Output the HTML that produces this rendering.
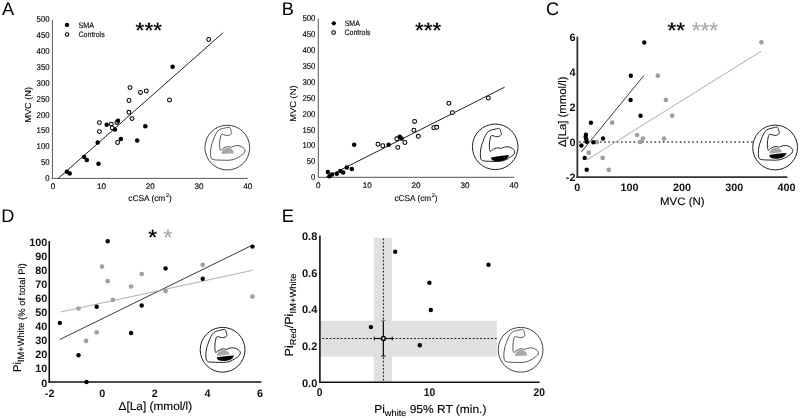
<!DOCTYPE html>
<html><head><meta charset="utf-8"><style>html,body{margin:0;padding:0;background:#fff;overflow:hidden}svg{display:block;will-change:transform}text{font-family:"Liberation Sans",sans-serif;text-rendering:geometricPrecision}</style></head><body>
<svg width="800" height="418" viewBox="0 0 800 418">
<rect width="800" height="418" fill="#fff"/>
<text x="1.9" y="14.6" font-size="18.2" text-anchor="start" font-weight="normal" fill="#000" >A</text>
<text x="281.7" y="14.8" font-size="18.2" text-anchor="start" font-weight="normal" fill="#000" >B</text>
<text x="546" y="14.8" font-size="18.2" text-anchor="start" font-weight="normal" fill="#000" >C</text>
<text x="1.2" y="221.5" font-size="18.2" text-anchor="start" font-weight="normal" fill="#000" >D</text>
<text x="281.8" y="221.7" font-size="18.2" text-anchor="start" font-weight="normal" fill="#000" >E</text>
<line x1="52.4" y1="19.8" x2="52.4" y2="178.9" stroke="#555" stroke-width="1" />
<line x1="52.4" y1="178.4" x2="247.6" y2="178.4" stroke="#555" stroke-width="1" />
<text x="0" y="0" font-size="8.4" text-anchor="end" font-weight="normal" fill="#000"  stroke="#000" stroke-width="0.15" transform="translate(49.6 181.2) scale(0.93 1)">0</text>
<text x="0" y="0" font-size="8.4" text-anchor="end" font-weight="normal" fill="#000"  stroke="#000" stroke-width="0.15" transform="translate(49.6 165.28) scale(0.93 1)">50</text>
<text x="0" y="0" font-size="8.4" text-anchor="end" font-weight="normal" fill="#000"  stroke="#000" stroke-width="0.15" transform="translate(49.6 149.36) scale(0.93 1)">100</text>
<text x="0" y="0" font-size="8.4" text-anchor="end" font-weight="normal" fill="#000"  stroke="#000" stroke-width="0.15" transform="translate(49.6 133.44) scale(0.93 1)">150</text>
<text x="0" y="0" font-size="8.4" text-anchor="end" font-weight="normal" fill="#000"  stroke="#000" stroke-width="0.15" transform="translate(49.6 117.52) scale(0.93 1)">200</text>
<text x="0" y="0" font-size="8.4" text-anchor="end" font-weight="normal" fill="#000"  stroke="#000" stroke-width="0.15" transform="translate(49.6 101.6) scale(0.93 1)">250</text>
<text x="0" y="0" font-size="8.4" text-anchor="end" font-weight="normal" fill="#000"  stroke="#000" stroke-width="0.15" transform="translate(49.6 85.68) scale(0.93 1)">300</text>
<text x="0" y="0" font-size="8.4" text-anchor="end" font-weight="normal" fill="#000"  stroke="#000" stroke-width="0.15" transform="translate(49.6 69.76) scale(0.93 1)">350</text>
<text x="0" y="0" font-size="8.4" text-anchor="end" font-weight="normal" fill="#000"  stroke="#000" stroke-width="0.15" transform="translate(49.6 53.84) scale(0.93 1)">400</text>
<text x="0" y="0" font-size="8.4" text-anchor="end" font-weight="normal" fill="#000"  stroke="#000" stroke-width="0.15" transform="translate(49.6 37.92) scale(0.93 1)">450</text>
<text x="0" y="0" font-size="8.4" text-anchor="end" font-weight="normal" fill="#000"  stroke="#000" stroke-width="0.15" transform="translate(49.6 22) scale(0.93 1)">500</text>
<text x="52.9" y="188.9" font-size="8.1" text-anchor="middle" font-weight="normal" fill="#000"  stroke="#000" stroke-width="0.15">0</text>
<text x="101.6" y="188.9" font-size="8.1" text-anchor="middle" font-weight="normal" fill="#000"  stroke="#000" stroke-width="0.15">10</text>
<text x="150.3" y="188.9" font-size="8.1" text-anchor="middle" font-weight="normal" fill="#000"  stroke="#000" stroke-width="0.15">20</text>
<text x="199" y="188.9" font-size="8.1" text-anchor="middle" font-weight="normal" fill="#000"  stroke="#000" stroke-width="0.15">30</text>
<text x="247.7" y="188.9" font-size="8.1" text-anchor="middle" font-weight="normal" fill="#000"  stroke="#000" stroke-width="0.15">40</text>
<text x="150" y="201.3" font-size="8.4" text-anchor="middle" font-weight="normal" fill="#000"  textLength="43.4" lengthAdjust="spacingAndGlyphs" stroke="#000" stroke-width="0.12">cCSA (cm<tspan font-size="5.5" dx="0.6" dy="-4.4">2</tspan><tspan dy="4.4">)</tspan></text>
<text x="0" y="0" font-size="8.6" text-anchor="middle" font-weight="normal" fill="#000" transform="translate(30.8 104.85) rotate(-90)" textLength="35.8" lengthAdjust="spacingAndGlyphs" stroke="#000" stroke-width="0.12">MVC (N)</text>
<line x1="58.2" y1="178.4" x2="223.2" y2="32.6" stroke="#222" stroke-width="1" />
<circle cx="99.4" cy="122.6" r="1.95" fill="#fff" stroke="#000" stroke-width="1.05"/>
<circle cx="99.4" cy="131.6" r="1.95" fill="#fff" stroke="#000" stroke-width="1.05"/>
<circle cx="111.3" cy="124.1" r="1.95" fill="#fff" stroke="#000" stroke-width="1.05"/>
<circle cx="112.3" cy="128" r="1.95" fill="#fff" stroke="#000" stroke-width="1.05"/>
<circle cx="116.9" cy="122.4" r="1.95" fill="#fff" stroke="#000" stroke-width="1.05"/>
<circle cx="117.6" cy="142.5" r="1.95" fill="#fff" stroke="#000" stroke-width="1.05"/>
<circle cx="128.9" cy="112.3" r="1.95" fill="#fff" stroke="#000" stroke-width="1.05"/>
<circle cx="132" cy="118.6" r="1.95" fill="#fff" stroke="#000" stroke-width="1.05"/>
<circle cx="129" cy="100.5" r="1.95" fill="#fff" stroke="#000" stroke-width="1.05"/>
<circle cx="130" cy="87.6" r="1.95" fill="#fff" stroke="#000" stroke-width="1.05"/>
<circle cx="140.5" cy="92.4" r="1.95" fill="#fff" stroke="#000" stroke-width="1.05"/>
<circle cx="146.3" cy="91" r="1.95" fill="#fff" stroke="#000" stroke-width="1.05"/>
<circle cx="169.5" cy="100" r="1.95" fill="#fff" stroke="#000" stroke-width="1.05"/>
<circle cx="208.7" cy="39.5" r="1.95" fill="#fff" stroke="#000" stroke-width="1.05"/>
<circle cx="66.9" cy="171.7" r="2.25" fill="#000"/>
<circle cx="69.7" cy="173.5" r="2.25" fill="#000"/>
<circle cx="84.1" cy="157.1" r="2.25" fill="#000"/>
<circle cx="86.8" cy="160" r="2.25" fill="#000"/>
<circle cx="98.5" cy="163.8" r="2.25" fill="#000"/>
<circle cx="97.7" cy="142.5" r="2.25" fill="#000"/>
<circle cx="106.7" cy="124.7" r="2.25" fill="#000"/>
<circle cx="118" cy="120.7" r="2.25" fill="#000"/>
<circle cx="114.9" cy="129.5" r="2.25" fill="#000"/>
<circle cx="120.9" cy="138.9" r="2.25" fill="#000"/>
<circle cx="137.2" cy="140.6" r="2.25" fill="#000"/>
<circle cx="145.3" cy="126.3" r="2.25" fill="#000"/>
<circle cx="172.6" cy="66.8" r="2.25" fill="#000"/>
<circle cx="67" cy="24.9" r="2.2" fill="#000"/>
<circle cx="67" cy="34.4" r="1.7" fill="#fff" stroke="#000" stroke-width="1.05"/>
<text x="78.6" y="27.8" font-size="7.9" text-anchor="start" font-weight="normal" fill="#000"  textLength="15.5" lengthAdjust="spacingAndGlyphs" stroke="#000" stroke-width="0.12">SMA</text>
<text x="78.5" y="36.6" font-size="7.9" text-anchor="start" font-weight="normal" fill="#000"  textLength="26.2" lengthAdjust="spacingAndGlyphs" stroke="#000" stroke-width="0.12">Controls</text>
<text x="148.8" y="37.9" font-size="22.6" text-anchor="middle" font-weight="bold" fill="#000" stroke="#fff" stroke-width="0.3">***</text>
<g transform="translate(227.3 147.6)">
<circle cx="0" cy="0" r="22.4" fill="#fff" stroke="#444" stroke-width="1"/>
<g transform="translate(0 0)">
<path d="M-6.8 2.8C-6.3 2.97 -5.37 1.62 -4.6 1.1C-3.83 0.58 -3.07 0.04 -2.2 -0.3C-1.33 -0.64 -0.27 -0.9 0.6 -0.95C1.47 -1 2.38 -0.67 3 -0.6C3.62 -0.53 3.62 -0.33 4.3 -0.5C4.98 -0.67 6.03 -1.35 7.1 -1.6C8.17 -1.85 9.5 -2.12 10.7 -2C11.9 -1.88 13.28 -1.38 14.3 -0.9C15.32 -0.42 16.23 0.25 16.8 0.9C17.37 1.55 17.7 2.23 17.7 3C17.7 3.77 17.32 4.78 16.8 5.5C16.28 6.22 15.5 6.63 14.6 7.3C13.7 7.97 12.53 8.83 11.4 9.5C10.27 10.17 9 10.83 7.8 11.3C6.6 11.77 5.4 12.07 4.2 12.3C3 12.53 1.8 12.65 0.6 12.7C-0.6 12.75 -1.73 12.63 -3 12.6C-4.27 12.57 -5.7 12.53 -7 12.5C-8.3 12.47 -9.57 12.5 -10.8 12.4C-12.03 12.3 -13.52 12.22 -14.4 11.9C-15.28 11.58 -15.72 11.27 -16.1 10.5C-16.48 9.73 -16.62 8.68 -16.7 7.3C-16.78 5.92 -16.75 3.83 -16.6 2.2C-16.45 0.57 -16.17 -1.05 -15.8 -2.5C-15.43 -3.95 -14.93 -5.03 -14.4 -6.5C-13.87 -7.97 -13.27 -9.82 -12.6 -11.3C-11.93 -12.78 -11.13 -14.35 -10.4 -15.4C-9.67 -16.45 -8.98 -17.03 -8.2 -17.6C-7.42 -18.17 -6.7 -18.47 -5.7 -18.8C-4.7 -19.13 -3.27 -19.35 -2.2 -19.6C-1.13 -19.85 -0.03 -20.18 0.7 -20.3C1.43 -20.42 1.78 -20.48 2.2 -20.3C2.62 -20.12 2.97 -19.75 3.2 -19.2C3.43 -18.65 3.42 -17.67 3.6 -17C3.78 -16.33 4.23 -15.73 4.3 -15.2C4.37 -14.67 4.3 -14.22 4 -13.8C3.7 -13.38 3.17 -12.98 2.5 -12.7C1.83 -12.42 0.9 -12.1 0 -12.1C-0.9 -12.1 -2.07 -12.5 -2.9 -12.7C-3.73 -12.9 -4.47 -13.3 -5 -13.3C-5.53 -13.3 -5.8 -13.15 -6.1 -12.7C-6.4 -12.25 -6.57 -11.55 -6.8 -10.6C-7.03 -9.65 -7.34 -8.2 -7.5 -7C-7.66 -5.8 -7.73 -4.58 -7.75 -3.4C-7.77 -2.22 -7.76 -0.93 -7.6 0.1C-7.44 1.13 -7.3 2.63 -6.8 2.8Z" fill="none" stroke="#555" stroke-width="1" stroke-linejoin="round"/>
<path d="M-5.8 6.3 C-5.4 2.0 -2.5 0.2 0.7 0.1 C3.8 0.0 6.2 2.0 6.7 5.6 Z" fill="#a8a8a8"/>
</g></g>
<line x1="318.3" y1="18.6" x2="318.3" y2="177.8" stroke="#555" stroke-width="1" />
<line x1="318.3" y1="177.3" x2="514" y2="177.3" stroke="#555" stroke-width="1" />
<text x="0" y="0" font-size="8.4" text-anchor="end" font-weight="normal" fill="#000"  stroke="#000" stroke-width="0.15" transform="translate(315.4 180.3) scale(0.93 1)">0</text>
<text x="0" y="0" font-size="8.4" text-anchor="end" font-weight="normal" fill="#000"  stroke="#000" stroke-width="0.15" transform="translate(315.4 164.38) scale(0.93 1)">50</text>
<text x="0" y="0" font-size="8.4" text-anchor="end" font-weight="normal" fill="#000"  stroke="#000" stroke-width="0.15" transform="translate(315.4 148.46) scale(0.93 1)">100</text>
<text x="0" y="0" font-size="8.4" text-anchor="end" font-weight="normal" fill="#000"  stroke="#000" stroke-width="0.15" transform="translate(315.4 132.54) scale(0.93 1)">150</text>
<text x="0" y="0" font-size="8.4" text-anchor="end" font-weight="normal" fill="#000"  stroke="#000" stroke-width="0.15" transform="translate(315.4 116.62) scale(0.93 1)">200</text>
<text x="0" y="0" font-size="8.4" text-anchor="end" font-weight="normal" fill="#000"  stroke="#000" stroke-width="0.15" transform="translate(315.4 100.7) scale(0.93 1)">250</text>
<text x="0" y="0" font-size="8.4" text-anchor="end" font-weight="normal" fill="#000"  stroke="#000" stroke-width="0.15" transform="translate(315.4 84.78) scale(0.93 1)">300</text>
<text x="0" y="0" font-size="8.4" text-anchor="end" font-weight="normal" fill="#000"  stroke="#000" stroke-width="0.15" transform="translate(315.4 68.86) scale(0.93 1)">350</text>
<text x="0" y="0" font-size="8.4" text-anchor="end" font-weight="normal" fill="#000"  stroke="#000" stroke-width="0.15" transform="translate(315.4 52.94) scale(0.93 1)">400</text>
<text x="0" y="0" font-size="8.4" text-anchor="end" font-weight="normal" fill="#000"  stroke="#000" stroke-width="0.15" transform="translate(315.4 37.02) scale(0.93 1)">450</text>
<text x="0" y="0" font-size="8.4" text-anchor="end" font-weight="normal" fill="#000"  stroke="#000" stroke-width="0.15" transform="translate(315.4 21.1) scale(0.93 1)">500</text>
<text x="318.2" y="187.6" font-size="8.1" text-anchor="middle" font-weight="normal" fill="#000"  stroke="#000" stroke-width="0.15">0</text>
<text x="367.15" y="187.6" font-size="8.1" text-anchor="middle" font-weight="normal" fill="#000"  stroke="#000" stroke-width="0.15">10</text>
<text x="416.1" y="187.6" font-size="8.1" text-anchor="middle" font-weight="normal" fill="#000"  stroke="#000" stroke-width="0.15">20</text>
<text x="465.05" y="187.6" font-size="8.1" text-anchor="middle" font-weight="normal" fill="#000"  stroke="#000" stroke-width="0.15">30</text>
<text x="514" y="187.6" font-size="8.1" text-anchor="middle" font-weight="normal" fill="#000"  stroke="#000" stroke-width="0.15">40</text>
<text x="416" y="201.2" font-size="8.4" text-anchor="middle" font-weight="normal" fill="#000"  textLength="43" lengthAdjust="spacingAndGlyphs" stroke="#000" stroke-width="0.12">cCSA (cm<tspan font-size="5.5" dx="0.6" dy="-4.4">2</tspan><tspan dy="4.4">)</tspan></text>
<text x="0" y="0" font-size="8.6" text-anchor="middle" font-weight="normal" fill="#000" transform="translate(296.3 103.65) rotate(-90)" textLength="36.4" lengthAdjust="spacingAndGlyphs" stroke="#000" stroke-width="0.12">MVC (N)</text>
<line x1="326" y1="177.3" x2="504.6" y2="87.2" stroke="#222" stroke-width="1" />
<circle cx="378" cy="144.2" r="1.95" fill="#fff" stroke="#000" stroke-width="1.05"/>
<circle cx="382.8" cy="145.7" r="1.95" fill="#fff" stroke="#000" stroke-width="1.05"/>
<circle cx="396.8" cy="138.8" r="1.95" fill="#fff" stroke="#000" stroke-width="1.05"/>
<circle cx="397.8" cy="147.4" r="1.95" fill="#fff" stroke="#000" stroke-width="1.05"/>
<circle cx="404.9" cy="142.5" r="1.95" fill="#fff" stroke="#000" stroke-width="1.05"/>
<circle cx="414.6" cy="121.4" r="1.95" fill="#fff" stroke="#000" stroke-width="1.05"/>
<circle cx="413.9" cy="130.2" r="1.95" fill="#fff" stroke="#000" stroke-width="1.05"/>
<circle cx="418.3" cy="136.3" r="1.95" fill="#fff" stroke="#000" stroke-width="1.05"/>
<circle cx="433.8" cy="127.7" r="1.95" fill="#fff" stroke="#000" stroke-width="1.05"/>
<circle cx="436.7" cy="127.3" r="1.95" fill="#fff" stroke="#000" stroke-width="1.05"/>
<circle cx="448.9" cy="103.2" r="1.95" fill="#fff" stroke="#000" stroke-width="1.05"/>
<circle cx="452.4" cy="112.6" r="1.95" fill="#fff" stroke="#000" stroke-width="1.05"/>
<circle cx="488.3" cy="98" r="1.95" fill="#fff" stroke="#000" stroke-width="1.05"/>
<circle cx="354.2" cy="144.8" r="2.25" fill="#000"/>
<circle cx="327.9" cy="172.1" r="2.25" fill="#000"/>
<circle cx="332" cy="174.4" r="2.25" fill="#000"/>
<circle cx="329.4" cy="176.2" r="2.25" fill="#000"/>
<circle cx="336.8" cy="173.7" r="2.25" fill="#000"/>
<circle cx="340.4" cy="171.1" r="2.25" fill="#000"/>
<circle cx="343.2" cy="172.5" r="2.25" fill="#000"/>
<circle cx="346.8" cy="167.6" r="2.25" fill="#000"/>
<circle cx="351.8" cy="168.9" r="2.25" fill="#000"/>
<circle cx="388.6" cy="144.8" r="2.25" fill="#000"/>
<circle cx="399.7" cy="136.7" r="2.25" fill="#000"/>
<circle cx="401.6" cy="138.4" r="2.25" fill="#000"/>
<circle cx="333.8" cy="23.3" r="2.15" fill="#000"/>
<circle cx="333.6" cy="32.6" r="1.85" fill="#fff" stroke="#000" stroke-width="1.05"/>
<text x="344.7" y="25.9" font-size="7.9" text-anchor="start" font-weight="normal" fill="#000"  textLength="15.1" lengthAdjust="spacingAndGlyphs" stroke="#000" stroke-width="0.12">SMA</text>
<text x="344.6" y="35.4" font-size="7.9" text-anchor="start" font-weight="normal" fill="#000"  textLength="25.9" lengthAdjust="spacingAndGlyphs" stroke="#000" stroke-width="0.12">Controls</text>
<text x="428.15" y="37.75" font-size="22.6" text-anchor="middle" font-weight="bold" fill="#000" stroke="#fff" stroke-width="0.3">***</text>
<g transform="translate(495.2 146.8)">
<circle cx="0" cy="0" r="22.8" fill="#fff" stroke="#222" stroke-width="1"/>
<g transform="translate(1.9 2)">
<path d="M-6.8 2.8C-6.3 2.97 -5.37 1.62 -4.6 1.1C-3.83 0.58 -3.07 0.04 -2.2 -0.3C-1.33 -0.64 -0.27 -0.9 0.6 -0.95C1.47 -1 2.38 -0.67 3 -0.6C3.62 -0.53 3.62 -0.33 4.3 -0.5C4.98 -0.67 6.03 -1.35 7.1 -1.6C8.17 -1.85 9.5 -2.12 10.7 -2C11.9 -1.88 13.28 -1.38 14.3 -0.9C15.32 -0.42 16.23 0.25 16.8 0.9C17.37 1.55 17.7 2.23 17.7 3C17.7 3.77 17.32 4.78 16.8 5.5C16.28 6.22 15.5 6.63 14.6 7.3C13.7 7.97 12.53 8.83 11.4 9.5C10.27 10.17 9 10.83 7.8 11.3C6.6 11.77 5.4 12.07 4.2 12.3C3 12.53 1.8 12.65 0.6 12.7C-0.6 12.75 -1.73 12.63 -3 12.6C-4.27 12.57 -5.7 12.53 -7 12.5C-8.3 12.47 -9.57 12.5 -10.8 12.4C-12.03 12.3 -13.52 12.22 -14.4 11.9C-15.28 11.58 -15.72 11.27 -16.1 10.5C-16.48 9.73 -16.62 8.68 -16.7 7.3C-16.78 5.92 -16.75 3.83 -16.6 2.2C-16.45 0.57 -16.17 -1.05 -15.8 -2.5C-15.43 -3.95 -14.93 -5.03 -14.4 -6.5C-13.87 -7.97 -13.27 -9.82 -12.6 -11.3C-11.93 -12.78 -11.13 -14.35 -10.4 -15.4C-9.67 -16.45 -8.98 -17.03 -8.2 -17.6C-7.42 -18.17 -6.7 -18.47 -5.7 -18.8C-4.7 -19.13 -3.27 -19.35 -2.2 -19.6C-1.13 -19.85 -0.03 -20.18 0.7 -20.3C1.43 -20.42 1.78 -20.48 2.2 -20.3C2.62 -20.12 2.97 -19.75 3.2 -19.2C3.43 -18.65 3.42 -17.67 3.6 -17C3.78 -16.33 4.23 -15.73 4.3 -15.2C4.37 -14.67 4.3 -14.22 4 -13.8C3.7 -13.38 3.17 -12.98 2.5 -12.7C1.83 -12.42 0.9 -12.1 0 -12.1C-0.9 -12.1 -2.07 -12.5 -2.9 -12.7C-3.73 -12.9 -4.47 -13.3 -5 -13.3C-5.53 -13.3 -5.8 -13.15 -6.1 -12.7C-6.4 -12.25 -6.57 -11.55 -6.8 -10.6C-7.03 -9.65 -7.34 -8.2 -7.5 -7C-7.66 -5.8 -7.73 -4.58 -7.75 -3.4C-7.77 -2.22 -7.76 -0.93 -7.6 0.1C-7.44 1.13 -7.3 2.63 -6.8 2.8Z" fill="none" stroke="#222" stroke-width="1" stroke-linejoin="round"/>
<path d="M-6.1 8.6 C-0.5 7.6 6 6.6 11.9 6.2 C11.4 8.8 9.4 10.9 6.5 11.8 C3.5 12.6 -1 12.6 -3.5 11.9 C-5.2 11.2 -6 10.2 -6.1 8.6 Z" fill="#000"/>
</g></g>
<line x1="577.35" y1="36.6" x2="577.35" y2="178" stroke="#333" stroke-width="1.8" />
<line x1="576.45" y1="177.1" x2="787.4" y2="177.1" stroke="#333" stroke-width="1.8" />
<text x="575.4" y="181.3" font-size="10.8" text-anchor="end" font-weight="bold" fill="#111" >-2</text>
<text x="575.4" y="146.2" font-size="10.8" text-anchor="end" font-weight="bold" fill="#111" >0</text>
<text x="575.4" y="111.1" font-size="10.8" text-anchor="end" font-weight="bold" fill="#111" >2</text>
<text x="575.4" y="76" font-size="10.8" text-anchor="end" font-weight="bold" fill="#111" >4</text>
<text x="575.4" y="40.9" font-size="10.8" text-anchor="end" font-weight="bold" fill="#111" >6</text>
<text x="577.2" y="191.3" font-size="10.8" text-anchor="middle" font-weight="bold" fill="#111" >0</text>
<text x="629.55" y="191.3" font-size="10.8" text-anchor="middle" font-weight="bold" fill="#111" >100</text>
<text x="681.9" y="191.3" font-size="10.8" text-anchor="middle" font-weight="bold" fill="#111" >200</text>
<text x="734.25" y="191.3" font-size="10.8" text-anchor="middle" font-weight="bold" fill="#111" >300</text>
<text x="786.6" y="191.3" font-size="10.8" text-anchor="middle" font-weight="bold" fill="#111" >400</text>
<text x="682.3" y="204.6" font-size="10.8" text-anchor="middle" font-weight="normal" fill="#000"  textLength="44.6" lengthAdjust="spacingAndGlyphs" stroke="#000" stroke-width="0.12">MVC (N)</text>
<text x="0" y="0" font-size="11" text-anchor="middle" font-weight="normal" fill="#000" transform="translate(566 111.8) rotate(-90)" textLength="70.5" lengthAdjust="spacingAndGlyphs" stroke="#000" stroke-width="0.12">&#916;[La] (mmol/l)</text>
<line x1="579" y1="142.1" x2="753" y2="142.1" stroke="#333" stroke-width="1.5" stroke-dasharray="1.5 2.7"/>
<line x1="581.4" y1="151.9" x2="643.9" y2="75.5" stroke="#222" stroke-width="0.9" />
<line x1="586.7" y1="160" x2="761.4" y2="51.1" stroke="#999" stroke-width="0.8" />
<circle cx="612.2" cy="122.7" r="2.35" fill="#a0a0a0"/>
<circle cx="596.8" cy="142.2" r="2.35" fill="#a0a0a0"/>
<circle cx="588.7" cy="152.7" r="2.35" fill="#a0a0a0"/>
<circle cx="602.6" cy="157.9" r="2.35" fill="#a0a0a0"/>
<circle cx="608.8" cy="169.8" r="2.35" fill="#a0a0a0"/>
<circle cx="657.8" cy="75.7" r="2.35" fill="#a0a0a0"/>
<circle cx="665.9" cy="99.9" r="2.35" fill="#a0a0a0"/>
<circle cx="672.2" cy="115.7" r="2.35" fill="#a0a0a0"/>
<circle cx="637.1" cy="135" r="2.35" fill="#a0a0a0"/>
<circle cx="642.9" cy="138.7" r="2.35" fill="#a0a0a0"/>
<circle cx="640" cy="142.1" r="2.35" fill="#a0a0a0"/>
<circle cx="664" cy="138.7" r="2.35" fill="#a0a0a0"/>
<circle cx="761.4" cy="42.3" r="2.35" fill="#a0a0a0"/>
<circle cx="581.4" cy="145.5" r="2.2" fill="#000"/>
<circle cx="585.9" cy="134.8" r="2.2" fill="#000"/>
<circle cx="585.6" cy="137.1" r="2.2" fill="#000"/>
<circle cx="586.2" cy="139.3" r="2.2" fill="#000"/>
<circle cx="586.7" cy="141.8" r="2.2" fill="#000"/>
<circle cx="593.4" cy="142.2" r="2.2" fill="#000"/>
<circle cx="603" cy="138.5" r="2.2" fill="#000"/>
<circle cx="584.7" cy="157.9" r="2.2" fill="#000"/>
<circle cx="586.7" cy="169.8" r="2.2" fill="#000"/>
<circle cx="590.9" cy="122.7" r="2.2" fill="#000"/>
<circle cx="630.6" cy="100" r="2.2" fill="#000"/>
<circle cx="640.5" cy="115.8" r="2.2" fill="#000"/>
<circle cx="630.8" cy="75.7" r="2.2" fill="#000"/>
<circle cx="644.3" cy="42.5" r="2.2" fill="#000"/>
<text x="676.2" y="37.9" font-size="22.6" text-anchor="middle" font-weight="bold" fill="#000" stroke="#fff" stroke-width="0.3">**</text>
<text x="704.85" y="37.9" font-size="22.6" text-anchor="middle" font-weight="bold" fill="#aaa" stroke="#fff" stroke-width="0.3">***</text>
<g transform="translate(775.1 147.5)">
<circle cx="0" cy="0" r="22.4" fill="#fff" stroke="#222" stroke-width="1"/>
<g transform="translate(0 0)">
<path d="M-6.8 2.8C-6.3 2.97 -5.37 1.62 -4.6 1.1C-3.83 0.58 -3.07 0.04 -2.2 -0.3C-1.33 -0.64 -0.27 -0.9 0.6 -0.95C1.47 -1 2.38 -0.67 3 -0.6C3.62 -0.53 3.62 -0.33 4.3 -0.5C4.98 -0.67 6.03 -1.35 7.1 -1.6C8.17 -1.85 9.5 -2.12 10.7 -2C11.9 -1.88 13.28 -1.38 14.3 -0.9C15.32 -0.42 16.23 0.25 16.8 0.9C17.37 1.55 17.7 2.23 17.7 3C17.7 3.77 17.32 4.78 16.8 5.5C16.28 6.22 15.5 6.63 14.6 7.3C13.7 7.97 12.53 8.83 11.4 9.5C10.27 10.17 9 10.83 7.8 11.3C6.6 11.77 5.4 12.07 4.2 12.3C3 12.53 1.8 12.65 0.6 12.7C-0.6 12.75 -1.73 12.63 -3 12.6C-4.27 12.57 -5.7 12.53 -7 12.5C-8.3 12.47 -9.57 12.5 -10.8 12.4C-12.03 12.3 -13.52 12.22 -14.4 11.9C-15.28 11.58 -15.72 11.27 -16.1 10.5C-16.48 9.73 -16.62 8.68 -16.7 7.3C-16.78 5.92 -16.75 3.83 -16.6 2.2C-16.45 0.57 -16.17 -1.05 -15.8 -2.5C-15.43 -3.95 -14.93 -5.03 -14.4 -6.5C-13.87 -7.97 -13.27 -9.82 -12.6 -11.3C-11.93 -12.78 -11.13 -14.35 -10.4 -15.4C-9.67 -16.45 -8.98 -17.03 -8.2 -17.6C-7.42 -18.17 -6.7 -18.47 -5.7 -18.8C-4.7 -19.13 -3.27 -19.35 -2.2 -19.6C-1.13 -19.85 -0.03 -20.18 0.7 -20.3C1.43 -20.42 1.78 -20.48 2.2 -20.3C2.62 -20.12 2.97 -19.75 3.2 -19.2C3.43 -18.65 3.42 -17.67 3.6 -17C3.78 -16.33 4.23 -15.73 4.3 -15.2C4.37 -14.67 4.3 -14.22 4 -13.8C3.7 -13.38 3.17 -12.98 2.5 -12.7C1.83 -12.42 0.9 -12.1 0 -12.1C-0.9 -12.1 -2.07 -12.5 -2.9 -12.7C-3.73 -12.9 -4.47 -13.3 -5 -13.3C-5.53 -13.3 -5.8 -13.15 -6.1 -12.7C-6.4 -12.25 -6.57 -11.55 -6.8 -10.6C-7.03 -9.65 -7.34 -8.2 -7.5 -7C-7.66 -5.8 -7.73 -4.58 -7.75 -3.4C-7.77 -2.22 -7.76 -0.93 -7.6 0.1C-7.44 1.13 -7.3 2.63 -6.8 2.8Z" fill="none" stroke="#222" stroke-width="1" stroke-linejoin="round"/>
<path d="M-5.6 6.2 C-5.6 2.6 -2.6 0.3 0.6 0.3 C4 0.3 6.6 2.4 6.9 4.8 Z" fill="#a8a8a8"/>
<path d="M-5.8 7.5 C-0.5 6.7 5.5 6.0 11.4 5.6 C10.8 7.8 9.0 9.5 6.5 10.4 C3.5 11.3 -1 11.4 -3.3 10.8 C-4.8 10.2 -5.7 9.1 -5.8 7.5 Z" fill="#000"/>
</g></g>
<line x1="49.25" y1="241.1" x2="49.25" y2="382.9" stroke="#111" stroke-width="1.6" />
<line x1="48.45" y1="382" x2="261.3" y2="382" stroke="#111" stroke-width="1.6" />
<text x="47.3" y="386.5" font-size="10.8" text-anchor="end" font-weight="bold" fill="#111" >0</text>
<text x="47.3" y="372.42" font-size="10.8" text-anchor="end" font-weight="bold" fill="#111" >10</text>
<text x="47.3" y="358.34" font-size="10.8" text-anchor="end" font-weight="bold" fill="#111" >20</text>
<text x="47.3" y="344.26" font-size="10.8" text-anchor="end" font-weight="bold" fill="#111" >30</text>
<text x="47.3" y="330.18" font-size="10.8" text-anchor="end" font-weight="bold" fill="#111" >40</text>
<text x="47.3" y="316.1" font-size="10.8" text-anchor="end" font-weight="bold" fill="#111" >50</text>
<text x="47.3" y="302.02" font-size="10.8" text-anchor="end" font-weight="bold" fill="#111" >60</text>
<text x="47.3" y="287.94" font-size="10.8" text-anchor="end" font-weight="bold" fill="#111" >70</text>
<text x="47.3" y="273.86" font-size="10.8" text-anchor="end" font-weight="bold" fill="#111" >80</text>
<text x="47.3" y="259.78" font-size="10.8" text-anchor="end" font-weight="bold" fill="#111" >90</text>
<text x="47.3" y="245.7" font-size="10.8" text-anchor="end" font-weight="bold" fill="#111" >100</text>
<text x="49.6" y="396.8" font-size="10.8" text-anchor="middle" font-weight="bold" fill="#111" >-2</text>
<text x="102.2" y="396.8" font-size="10.8" text-anchor="middle" font-weight="bold" fill="#111" >0</text>
<text x="154.8" y="396.8" font-size="10.8" text-anchor="middle" font-weight="bold" fill="#111" >2</text>
<text x="207.4" y="396.8" font-size="10.8" text-anchor="middle" font-weight="bold" fill="#111" >4</text>
<text x="260" y="396.8" font-size="10.8" text-anchor="middle" font-weight="bold" fill="#111" >6</text>
<text x="155.4" y="409.5" font-size="11.6" text-anchor="middle" font-weight="normal" fill="#000"  textLength="73.6" lengthAdjust="spacingAndGlyphs" stroke="#000" stroke-width="0.12">&#916;[La] (mmol/l)</text>
<text x="0" y="0" font-size="11.3" text-anchor="start" font-weight="normal" fill="#000" transform="translate(21.3 372.1) rotate(-90)" textLength="108.8" lengthAdjust="spacingAndGlyphs" stroke="#000" stroke-width="0.12">Pi<tspan font-size="9.2" dy="2.9">IM+White</tspan><tspan font-size="9.4" dy="0.8"> (% of total Pi)</tspan></text>
<line x1="59.8" y1="339.5" x2="252.5" y2="245.1" stroke="#222" stroke-width="0.9" />
<line x1="60.6" y1="312" x2="252.5" y2="270.3" stroke="#999" stroke-width="0.8" />
<circle cx="102" cy="266.6" r="2.35" fill="#a0a0a0"/>
<circle cx="107.7" cy="281.2" r="2.35" fill="#a0a0a0"/>
<circle cx="141.7" cy="274" r="2.35" fill="#a0a0a0"/>
<circle cx="131.1" cy="286.5" r="2.35" fill="#a0a0a0"/>
<circle cx="112.9" cy="299.9" r="2.35" fill="#a0a0a0"/>
<circle cx="78.5" cy="308.5" r="2.35" fill="#a0a0a0"/>
<circle cx="86.1" cy="340.9" r="2.35" fill="#a0a0a0"/>
<circle cx="96.7" cy="332.3" r="2.35" fill="#a0a0a0"/>
<circle cx="202.7" cy="264.8" r="2.35" fill="#a0a0a0"/>
<circle cx="165.6" cy="291.1" r="2.35" fill="#a0a0a0"/>
<circle cx="252.5" cy="296.6" r="2.35" fill="#a0a0a0"/>
<circle cx="107.7" cy="241.2" r="2.2" fill="#000"/>
<circle cx="96.7" cy="306.7" r="2.2" fill="#000"/>
<circle cx="141.7" cy="305.5" r="2.2" fill="#000"/>
<circle cx="59.8" cy="322.9" r="2.2" fill="#000"/>
<circle cx="131.1" cy="333" r="2.2" fill="#000"/>
<circle cx="78.5" cy="355.3" r="2.2" fill="#000"/>
<circle cx="86.5" cy="382" r="2.2" fill="#000"/>
<circle cx="252.5" cy="246.6" r="2.2" fill="#000"/>
<circle cx="165.6" cy="268.4" r="2.2" fill="#000"/>
<circle cx="202.7" cy="278.7" r="2.2" fill="#000"/>
<text x="152.7" y="245.3" font-size="22.6" text-anchor="middle" font-weight="bold" fill="#000" stroke="#fff" stroke-width="0.3">*</text>
<text x="168" y="245.3" font-size="22.6" text-anchor="middle" font-weight="bold" fill="#aaa" stroke="#fff" stroke-width="0.3">*</text>
<g transform="translate(222.6 349.8)">
<circle cx="0" cy="0" r="22.4" fill="#fff" stroke="#222" stroke-width="1"/>
<g transform="translate(0 0)">
<path d="M-6.8 2.8C-6.3 2.97 -5.37 1.62 -4.6 1.1C-3.83 0.58 -3.07 0.04 -2.2 -0.3C-1.33 -0.64 -0.27 -0.9 0.6 -0.95C1.47 -1 2.38 -0.67 3 -0.6C3.62 -0.53 3.62 -0.33 4.3 -0.5C4.98 -0.67 6.03 -1.35 7.1 -1.6C8.17 -1.85 9.5 -2.12 10.7 -2C11.9 -1.88 13.28 -1.38 14.3 -0.9C15.32 -0.42 16.23 0.25 16.8 0.9C17.37 1.55 17.7 2.23 17.7 3C17.7 3.77 17.32 4.78 16.8 5.5C16.28 6.22 15.5 6.63 14.6 7.3C13.7 7.97 12.53 8.83 11.4 9.5C10.27 10.17 9 10.83 7.8 11.3C6.6 11.77 5.4 12.07 4.2 12.3C3 12.53 1.8 12.65 0.6 12.7C-0.6 12.75 -1.73 12.63 -3 12.6C-4.27 12.57 -5.7 12.53 -7 12.5C-8.3 12.47 -9.57 12.5 -10.8 12.4C-12.03 12.3 -13.52 12.22 -14.4 11.9C-15.28 11.58 -15.72 11.27 -16.1 10.5C-16.48 9.73 -16.62 8.68 -16.7 7.3C-16.78 5.92 -16.75 3.83 -16.6 2.2C-16.45 0.57 -16.17 -1.05 -15.8 -2.5C-15.43 -3.95 -14.93 -5.03 -14.4 -6.5C-13.87 -7.97 -13.27 -9.82 -12.6 -11.3C-11.93 -12.78 -11.13 -14.35 -10.4 -15.4C-9.67 -16.45 -8.98 -17.03 -8.2 -17.6C-7.42 -18.17 -6.7 -18.47 -5.7 -18.8C-4.7 -19.13 -3.27 -19.35 -2.2 -19.6C-1.13 -19.85 -0.03 -20.18 0.7 -20.3C1.43 -20.42 1.78 -20.48 2.2 -20.3C2.62 -20.12 2.97 -19.75 3.2 -19.2C3.43 -18.65 3.42 -17.67 3.6 -17C3.78 -16.33 4.23 -15.73 4.3 -15.2C4.37 -14.67 4.3 -14.22 4 -13.8C3.7 -13.38 3.17 -12.98 2.5 -12.7C1.83 -12.42 0.9 -12.1 0 -12.1C-0.9 -12.1 -2.07 -12.5 -2.9 -12.7C-3.73 -12.9 -4.47 -13.3 -5 -13.3C-5.53 -13.3 -5.8 -13.15 -6.1 -12.7C-6.4 -12.25 -6.57 -11.55 -6.8 -10.6C-7.03 -9.65 -7.34 -8.2 -7.5 -7C-7.66 -5.8 -7.73 -4.58 -7.75 -3.4C-7.77 -2.22 -7.76 -0.93 -7.6 0.1C-7.44 1.13 -7.3 2.63 -6.8 2.8Z" fill="none" stroke="#222" stroke-width="1" stroke-linejoin="round"/>
<path d="M-5.6 6.2 C-5.6 2.6 -2.6 0.3 0.6 0.3 C4 0.3 6.6 2.4 6.9 4.8 Z" fill="#a8a8a8"/>
<path d="M-5.8 7.5 C-0.5 6.7 5.5 6.0 11.4 5.6 C10.8 7.8 9.0 9.5 6.5 10.4 C3.5 11.3 -1 11.4 -3.3 10.8 C-4.8 10.2 -5.7 9.1 -5.8 7.5 Z" fill="#000"/>
</g></g>
<rect x="319.9" y="320.8" width="176.9" height="35.8" fill="#e0e0e0"/>
<rect x="373.8" y="237.9" width="18.1" height="143.9" fill="#e0e0e0"/>
<line x1="319.9" y1="235.4" x2="319.9" y2="382.7" stroke="#111" stroke-width="1.6" />
<line x1="319.1" y1="382.2" x2="539.6" y2="382.2" stroke="#111" stroke-width="1.6" />
<text x="317.3" y="387" font-size="11" text-anchor="end" font-weight="bold" fill="#111" >0.0</text>
<text x="317.3" y="350.2" font-size="11" text-anchor="end" font-weight="bold" fill="#111" >0.2</text>
<text x="317.3" y="313.4" font-size="11" text-anchor="end" font-weight="bold" fill="#111" >0.4</text>
<text x="317.3" y="276.6" font-size="11" text-anchor="end" font-weight="bold" fill="#111" >0.6</text>
<text x="317.3" y="239.8" font-size="11" text-anchor="end" font-weight="bold" fill="#111" >0.8</text>
<text x="0" y="0" font-size="11.2" text-anchor="middle" font-weight="bold" fill="#111"  transform="translate(319.6 395.6) scale(0.92 1)">0</text>
<text x="0" y="0" font-size="11.2" text-anchor="middle" font-weight="bold" fill="#111"  transform="translate(429.4 395.6) scale(0.92 1)">10</text>
<text x="0" y="0" font-size="11.2" text-anchor="middle" font-weight="bold" fill="#111"  transform="translate(539.2 395.6) scale(0.92 1)">20</text>
<text x="374.2" y="412.6" font-size="11.5" text-anchor="start" font-weight="normal" fill="#000"  textLength="112.2" lengthAdjust="spacingAndGlyphs" stroke="#000" stroke-width="0.12">Pi<tspan font-size="8.9" dy="3">white</tspan><tspan dy="-3"> 95% RT (min.)</tspan></text>
<text x="0" y="0" font-size="11.7" text-anchor="start" font-weight="normal" fill="#000" transform="translate(292.7 356.4) rotate(-90)" textLength="83" lengthAdjust="spacingAndGlyphs" stroke="#000" stroke-width="0.12">Pi<tspan font-size="8.6" dy="3.2">Red</tspan><tspan dy="-3.2">/Pi</tspan><tspan font-size="8.8" dy="3.2">IM+White</tspan></text>
<line x1="320.9" y1="338.5" x2="496.8" y2="338.5" stroke="#222" stroke-width="1.1" stroke-dasharray="2 1.67" stroke-dashoffset="-1.3"/>
<line x1="383.4" y1="238.4" x2="383.4" y2="380.8" stroke="#222" stroke-width="1.1" stroke-dasharray="1.8 1.8"/>
<line x1="374.4" y1="338.5" x2="392.3" y2="338.5" stroke="#111" stroke-width="1.2" />
<line x1="374.4" y1="336.8" x2="374.4" y2="340.2" stroke="#111" stroke-width="1.1" />
<line x1="392.3" y1="336.8" x2="392.3" y2="340.2" stroke="#111" stroke-width="1.1" />
<line x1="383.4" y1="320.6" x2="383.4" y2="356" stroke="#111" stroke-width="1.2" />
<line x1="381.3" y1="356" x2="385.5" y2="356" stroke="#111" stroke-width="1.1" />
<line x1="381.3" y1="320.6" x2="385.5" y2="320.6" stroke="#888" stroke-width="1.1" />
<circle cx="383.4" cy="338.5" r="1.9" fill="#fff" stroke="#000" stroke-width="1.5"/>
<circle cx="395.2" cy="251.8" r="2.2" fill="#000"/>
<circle cx="429.4" cy="282.7" r="2.2" fill="#000"/>
<circle cx="430.8" cy="310" r="2.2" fill="#000"/>
<circle cx="488.5" cy="264.7" r="2.2" fill="#000"/>
<circle cx="370.9" cy="327.1" r="2.2" fill="#000"/>
<circle cx="419.8" cy="345.2" r="2.2" fill="#000"/>
<g transform="translate(520.6 349.8)">
<circle cx="0" cy="0" r="22.4" fill="#fff" stroke="#444" stroke-width="1"/>
<g transform="translate(0 0)">
<path d="M-6.8 2.8C-6.3 2.97 -5.37 1.62 -4.6 1.1C-3.83 0.58 -3.07 0.04 -2.2 -0.3C-1.33 -0.64 -0.27 -0.9 0.6 -0.95C1.47 -1 2.38 -0.67 3 -0.6C3.62 -0.53 3.62 -0.33 4.3 -0.5C4.98 -0.67 6.03 -1.35 7.1 -1.6C8.17 -1.85 9.5 -2.12 10.7 -2C11.9 -1.88 13.28 -1.38 14.3 -0.9C15.32 -0.42 16.23 0.25 16.8 0.9C17.37 1.55 17.7 2.23 17.7 3C17.7 3.77 17.32 4.78 16.8 5.5C16.28 6.22 15.5 6.63 14.6 7.3C13.7 7.97 12.53 8.83 11.4 9.5C10.27 10.17 9 10.83 7.8 11.3C6.6 11.77 5.4 12.07 4.2 12.3C3 12.53 1.8 12.65 0.6 12.7C-0.6 12.75 -1.73 12.63 -3 12.6C-4.27 12.57 -5.7 12.53 -7 12.5C-8.3 12.47 -9.57 12.5 -10.8 12.4C-12.03 12.3 -13.52 12.22 -14.4 11.9C-15.28 11.58 -15.72 11.27 -16.1 10.5C-16.48 9.73 -16.62 8.68 -16.7 7.3C-16.78 5.92 -16.75 3.83 -16.6 2.2C-16.45 0.57 -16.17 -1.05 -15.8 -2.5C-15.43 -3.95 -14.93 -5.03 -14.4 -6.5C-13.87 -7.97 -13.27 -9.82 -12.6 -11.3C-11.93 -12.78 -11.13 -14.35 -10.4 -15.4C-9.67 -16.45 -8.98 -17.03 -8.2 -17.6C-7.42 -18.17 -6.7 -18.47 -5.7 -18.8C-4.7 -19.13 -3.27 -19.35 -2.2 -19.6C-1.13 -19.85 -0.03 -20.18 0.7 -20.3C1.43 -20.42 1.78 -20.48 2.2 -20.3C2.62 -20.12 2.97 -19.75 3.2 -19.2C3.43 -18.65 3.42 -17.67 3.6 -17C3.78 -16.33 4.23 -15.73 4.3 -15.2C4.37 -14.67 4.3 -14.22 4 -13.8C3.7 -13.38 3.17 -12.98 2.5 -12.7C1.83 -12.42 0.9 -12.1 0 -12.1C-0.9 -12.1 -2.07 -12.5 -2.9 -12.7C-3.73 -12.9 -4.47 -13.3 -5 -13.3C-5.53 -13.3 -5.8 -13.15 -6.1 -12.7C-6.4 -12.25 -6.57 -11.55 -6.8 -10.6C-7.03 -9.65 -7.34 -8.2 -7.5 -7C-7.66 -5.8 -7.73 -4.58 -7.75 -3.4C-7.77 -2.22 -7.76 -0.93 -7.6 0.1C-7.44 1.13 -7.3 2.63 -6.8 2.8Z" fill="none" stroke="#555" stroke-width="1" stroke-linejoin="round"/>
<path d="M-5.8 6.3 C-5.4 2.0 -2.5 0.2 0.7 0.1 C3.8 0.0 6.2 2.0 6.7 5.6 Z" fill="#a8a8a8"/>
</g></g>
</svg></body></html>
